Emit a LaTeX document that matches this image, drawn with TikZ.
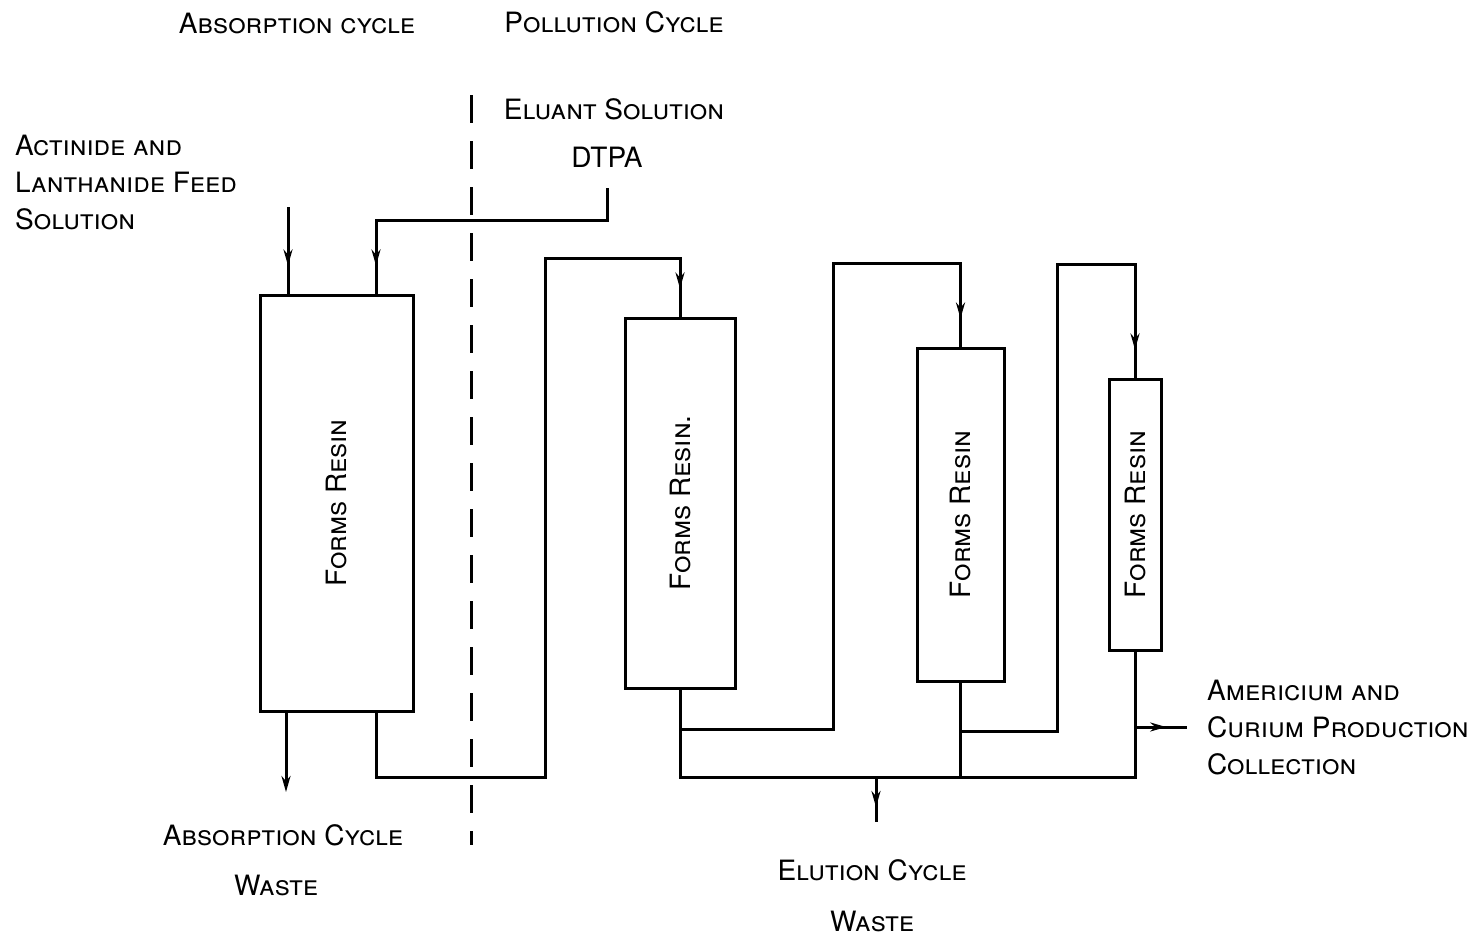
\documentclass[tikz,border=0pt]{standalone}
\usepackage{fontspec}
\setmainfont{TeX Gyre Heros}
\usetikzlibrary{arrows.meta,decorations.markings}

\begin{document}
\begin{tikzpicture}[x=1pt,y=-1pt,
    pipe/.style={line width=3pt},
    column/.style={draw,line width=3pt,inner sep=0pt},
    lbl/.style={font=\fontsize{28}{37}\selectfont\scshape,inner sep=0pt},
    midarrow/.style={postaction={decorate},decoration={markings,
      mark=at position #1 with {\arrow{Stealth[length=16pt,width=9pt]}}}}]
\useasboundingbox (0,0) rectangle (1467,938);
%Put the four resin columns down first, then the pipes
% that run between them, and the labels last.
% the dashed line splits the two cycles.
\node[column,minimum width=153pt,minimum height=416pt] (c1) at (336.5,503) {};
\node[column,minimum width=110pt,minimum height=370pt] (c2) at (680,503) {};
\node[column,minimum width=87pt,minimum height=333pt] (c3) at (960.5,514.5) {};
\node[column,minimum width=52pt,minimum height=271pt] (c4) at (1135,514.5) {};
\node[lbl,rotate=90] (r1) at (c1) {Forms Resin};
\node[lbl,rotate=90] (r2) at (c2) {Forms Resin.};
\node[lbl,rotate=90] (r3) at (c3) {Forms Resin};
\node[lbl,rotate=90] (r4) at (c4) {Forms Resin};

\node[lbl] (abscyc) at (297,23) {Absorption cycle};
\node[lbl] (polcyc) at (614,22) {Pollution Cycle};
\node[lbl] (eluant) at (614,109) {Eluant Solution};
\node[lbl,font=\fontsize{28}{37}\selectfont] (dtpa) at (607,157) {DTPA};
\node[lbl,align=left,anchor=north west] (feed) at (15,135) {Actinide and\\Lanthanide Feed\\Solution};
\node[lbl] (absw) at (283,835) {Absorption Cycle};
\node[lbl] (absw2) at (276,885) {Waste};
\node[lbl] (elw) at (872,870) {Elution Cycle};
\node[lbl] (elw2) at (872,921) {Waste};
\node[lbl,align=left,anchor=north west] (amcm) at (1207,680) {Americium and\\Curium Production\\Collection};

\coordinate (feedin) at (288,207);
\coordinate (e0) at (607,188);
\coordinate (e1) at (376,220);
\coordinate (o1) at (286,711);
\coordinate (w1) at (286,792);
\coordinate (b1) at (376,711);
\coordinate (up1) at (545,777);
\coordinate (top1) at (545,258);
\coordinate (up2) at (833,729);
\coordinate (top2) at (833,263);
\coordinate (up3) at (1057,731);
\coordinate (top3) at (1057,264);
\coordinate (bus) at (683,777);
\coordinate (drain) at (876,777);
\coordinate (drainend) at (876,822);
\coordinate (prod) at (1135,727);
\coordinate (prodend) at (1187,727);

\draw[pipe,dashed,dash pattern=on 28pt off 18pt] (471,95) -- (471,845);

\draw[pipe,midarrow=-28pt] (feedin) -- (feedin |- c1.north);
\draw[pipe,midarrow=-28pt] (e0) |- (e1) -- (e1 |- c1.north);
\draw[pipe,-{Stealth[length=16pt,width=9pt]}] (o1) -- (w1);
\draw[pipe,midarrow=-28pt] (b1) |- (up1) -- (top1) -| (c2.north);
\draw[pipe,midarrow=-28pt] (c2.south |- up2) -- (up2) -- (top2) -| (c3.north);
\draw[pipe,midarrow=-28pt] (c3.south |- up3) -- (up3) -- (top3) -| (c4.north);
\draw[pipe] (c2.south) |- (c4.south |- bus) -- (c4.south);
\draw[pipe] (c3.south) -- (c3.south |- bus);
\draw[pipe,midarrow=-15pt] (drain) -- (drainend);
\draw[pipe,midarrow=0.6] (prod) -- (prodend);
\end{tikzpicture}
\end{document}
